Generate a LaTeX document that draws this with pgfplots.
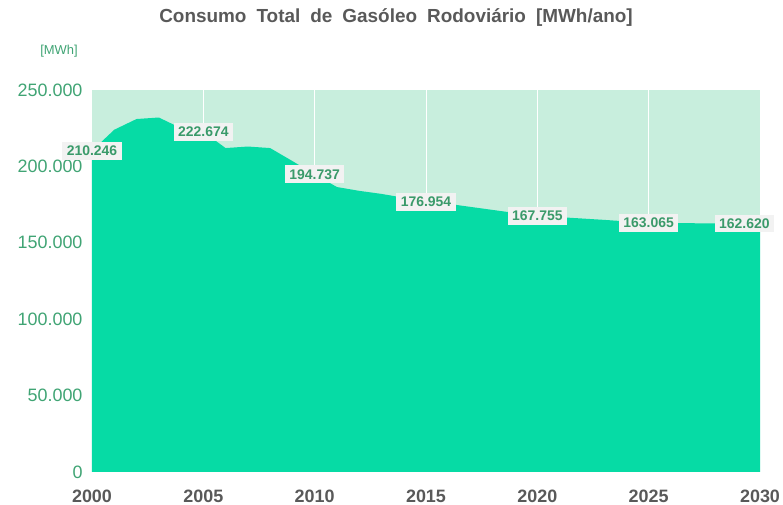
\documentclass[border=0pt]{standalone}
\usepackage{fontspec}
\setmainfont{Liberation Sans}
\usepackage{pgfplots}
\pgfplotsset{compat=1.18}

\definecolor{areacol}{HTML}{06DBA5}
\definecolor{bgcol}{HTML}{C8EEDD}
\definecolor{lblgreen}{HTML}{3A9A6A}
\definecolor{tickgreen}{HTML}{40A474}
\definecolor{boxgray}{HTML}{F2F2F2}
\definecolor{txtgray}{HTML}{595959}

\pgfplotstableread{
year value
2000 210246
2001 224000
2002 231000
2003 232000
2004 225000
2005 222674
2006 212000
2007 213000
2008 212000
2009 203500
2010 194737
2011 186500
2012 184000
2013 182000
2014 179500
2015 176954
2016 175500
2017 173500
2018 171500
2019 169500
2020 167755
2021 166800
2022 165900
2023 165000
2024 164000
2025 163065
2026 162900
2027 162800
2028 162700
2029 162650
2030 162620
}\consumo

\pgfplotstableread{
year value label
2000 210246 210.246
2005 222674 222.674
2010 194737 194.737
2015 176954 176.954
2020 167755 167.755
2025 163065 163.065
2029.3 162620 162.620
}\rotulos

\begin{document}
\begin{tikzpicture}
\begin{axis}[
    at={(0,0)}, anchor=south west,
    scale only axis,
    width=668bp, height=382bp,
    xmin=2000, xmax=2030,
    ymin=0, ymax=250000,
    axis line style={draw=none},
    major tick length=0pt,
    axis background/.style={fill=bgcol},
    xtick={2000,2005,...,2030},
    ytick={0,50000,...,250000},
    scaled y ticks=false,
    xmajorgrids,
    major grid style={white, line width=1bp},
    /pgf/number format/assume math mode=true,
    xticklabel style={/pgf/number format/1000 sep={}, font=\bfseries\fontsize{18}{20}\selectfont, text=txtgray, yshift=-14bp},
    yticklabel style={/pgf/number format/fixed, /pgf/number format/1000 sep={.}, font=\fontsize{18}{20}\selectfont, text=tickgreen, xshift=-6bp},
    clip=false,
]
\addplot[fill=areacol, draw=none] table[x=year, y=value] {\consumo} \closedcycle;
\addplot[draw=none, mark=none,
    nodes near coords,
    point meta=explicit symbolic,
    every node near coord/.append style={anchor=center, fill=boxgray, inner xsep=4.5bp, inner ysep=4bp,
        font=\bfseries\fontsize{14}{16}\selectfont, text=lblgreen}]
    table[x=year, y=value, meta=label] {\rotulos};
\end{axis}
\node[font=\bfseries\fontsize{19}{21}\selectfont, text=txtgray] at (304bp,454bp) {\spaceskip=10bp Consumo Total de Gasóleo Rodoviário [MWh/ano]};
\node[font=\fontsize{13}{15}\selectfont, text=tickgreen] at (-33bp,421bp) {[MWh]};
\pgfresetboundingbox
\path[use as bounding box] (-92bp,-33bp) rectangle (691bp,472bp);
\end{tikzpicture}
\end{document}
